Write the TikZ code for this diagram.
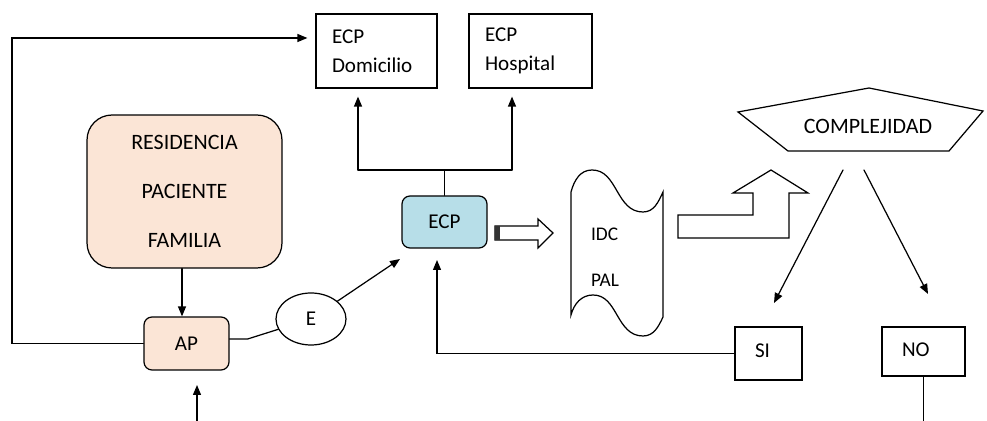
\documentclass[tikz,border=0pt]{standalone}
\usepackage{fontspec}
\setmainfont{Carlito}
\usetikzlibrary{arrows.meta, positioning, shapes.geometric, calc}
\definecolor{peach}{RGB}{251,229,214}
\definecolor{aqua}{RGB}{183,222,232}

\begin{document}
\begin{tikzpicture}[x=0.02cm, y=-0.02cm, line width=0.7pt, line cap=round,
        >={Triangle[length=2mm, width=1.6mm]},
        txt/.style={font=\fontsize{12}{16.5}\selectfont},
        box/.style={draw, rectangle, txt, inner sep=0pt},
        softbox/.style={draw, rectangle, rounded corners=0.16cm, txt, inner sep=0pt}]
        \useasboundingbox (0,0) rectangle (987,421);
        %\draw [step=50, very thin, lightgray] (0,0) grid (987,421);

        % cajas superiores
        \node [box, minimum width=2.42cm, minimum height=1.48cm, text width=1.78cm, align=left] (dom) at (376.5,51) {ECP\\Domicilio};
        \node [box, minimum width=2.46cm, minimum height=1.48cm, text width=1.82cm, align=left] (hosp) at (530.5,51) {ECP\\Hospital};

        % residencia y AP
        \node [softbox, fill=peach, rounded corners=0.5cm, minimum width=3.9cm, minimum height=3.06cm, align=center,
               font=\fontsize{12.5}{27.8}\selectfont] (res) at (184.5,191.5) {RESIDENCIA\\PACIENTE\\FAMILIA};
        \node [softbox, fill=peach, minimum width=1.7cm, minimum height=1.06cm] (ap) at (186.5,343.5) {AP};
        \node [draw, ellipse, txt, inner sep=0pt, minimum width=1.4cm, minimum height=1.04cm] (e) at (311,319) {E};
        \node [softbox, fill=aqua, minimum width=1.7cm, minimum height=1.04cm] (ecp) at (444.5,222) {ECP};

        % cinta IDC / PAL
        \draw [fill=white] (571,192) to[out=75, in=180] (592,170) to[out=0, in=120] (617,191)
              to[out=-60, in=180] (643,212) to[out=0, in=-115] (663,192) -- (663,317)
              to[out=-115, in=0] (643,336) to[out=180, in=-60] (617,315)
              to[out=120, in=0] (593,295) to[out=180, in=75] (571,315) -- cycle;
        \node [txt, font=\fontsize{11}{26}\selectfont, align=left] (idc) at (605,257) {IDC\\PAL};

        % flechas huecas
        \draw (495,226) -- (538,226) -- (538,219) -- (553,233) -- (538,248) -- (538,240) -- (495,240) -- cycle;
        \fill [black!80] (495,226) rectangle (500,240);
        \draw (678,215) -- (753,215) -- (753,193) -- (733,193) -- (771,170) -- (808,193) -- (789,193) -- (789,238) -- (678,238) -- cycle;

        % complejidad
        \draw (738,112) -- (869,88) -- (983,111) -- (949,151) -- (788,151) -- cycle;
        \node [txt, font=\fontsize{12.5}{15}\selectfont] (cplx) at (868,126) {COMPLEJIDAD};
        \node [box, minimum width=1.34cm, minimum height=1.06cm, text width=0.54cm, align=left] (si) at (768.5,353.5) {\raisebox{3pt}{SI}};
        \node [box, minimum width=1.66cm, minimum height=0.98cm, text width=0.86cm, align=left] (no) at (923.5,351.5) {\raisebox{2pt}{NO}};

        \coordinate (lft) at (12,38);
        \coordinate (jl) at (358,170);
        \coordinate (jr) at (512,170);
        \coordinate (ein) at (400,259);
        \coordinate (sin) at (437,260);
        \coordinate (c1) at (843,170);
        \coordinate (c2) at (864,170);
        \coordinate (bot) at (197,421);

        % conexiones
        \draw [->, shorten >=1.6mm] (ap.west) -| (lft) -- (lft -| dom.west);
        \draw [->] (res.south -| 182,0) -- (ap.north -| 182,0);
        \draw (ap.east |- 0,339) -- ++(18,0) -- (e);
        \draw [->] (e) -- (ein);
        \draw [->] (si.west) -| (sin);
        \draw (ecp.north) -- (ecp.north |- jl);
        \draw (jl) -- (jr);
        \draw [->, shorten >=1.6mm] (jl) -- (jl |- dom.south);
        \draw [->, shorten >=1.6mm] (jr) -- (jr |- hosp.south);
        \draw [->] (c1) -- (774,303);
        \draw [->] (c2) -- (928,294);
        \draw (no.south) -- (no.south |- bot);
        \draw [->] (bot) -- (197,385);
\end{tikzpicture}
\end{document}
